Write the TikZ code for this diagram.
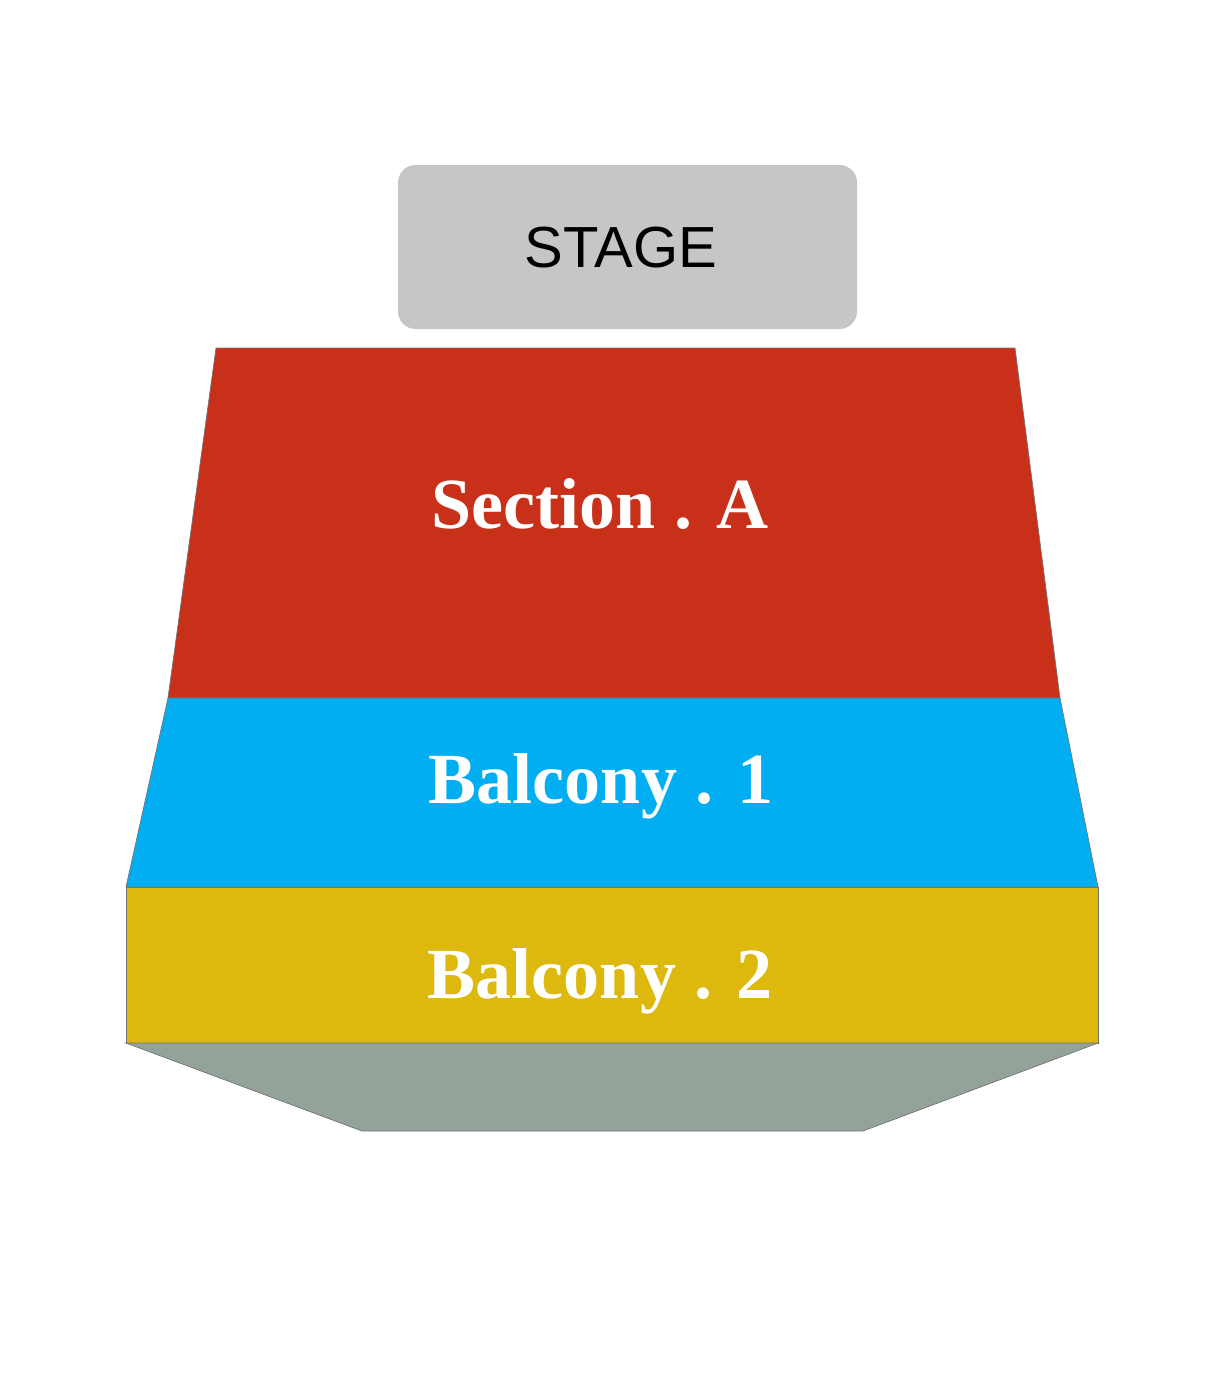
\documentclass[tikz,border=0pt]{standalone}
\usepackage{fontspec}
\setmainfont{Liberation Serif}
\newfontfamily\stagefont{Liberation Sans}
\usepackage{tikz}

\definecolor{stagegray}{HTML}{C6C6C6}
\definecolor{secred}{HTML}{C8301A}
\definecolor{balblue}{HTML}{02AEF2}
\definecolor{balgold}{HTML}{DDB90D}
\definecolor{floorgray}{HTML}{93A39A}

\begin{document}
\begin{tikzpicture}[x=0.02cm, y=-0.02cm,
		zone/.style={draw=black!55, line width=0.4pt},
		zonelabel/.style={text=white, font=\fontsize{41}{46}\selectfont\bfseries}]
		\useasboundingbox (0,0) rectangle (1211,1383);
		
		% Stage box
		\draw[fill=stagegray, draw=none, rounded corners=10pt] (398,165) rectangle (857,329);
		\node (STAGE) at (621,248) {\stagefont\fontsize{33}{38}\selectfont STAGE};
		
		\path % Corners of the seating blocks
		(216,348)  coordinate (Atl)
		(1015,348) coordinate (Atr)
		(168,698)  coordinate (Abl)
		(1060,698) coordinate (Abr)
		(126,887)  coordinate (Bl)
		(1098,887) coordinate (Br)
		(126,1043) coordinate (Cl)
		(1098,1043) coordinate (Cr)
		(362,1131) coordinate (Dl)
		(863,1131) coordinate (Dr)
		;
		
		\draw[zone, fill=secred]  (Atl) -- (Atr) -- (Abr) -- (Abl) -- cycle;
		\draw[zone, fill=balblue] (Abl) -- (Abr) -- (Br) -- (Bl) -- cycle;
		\draw[zone, fill=balgold] (Bl) -- (Br) -- (Cr) -- (Cl) -- cycle;
		\draw[zone, fill=floorgray] (Cl) -- (Cr) -- (Dr) -- (Dl) -- cycle;
		
		% Labels
		\node[zonelabel] (SecA) at (600,504) {Section . A};
		\node[zonelabel] (Bal1) at (601,786) {Balcony . 1};
		\node[zonelabel] (Bal2) at (600,981) {Balcony . 2};
		
\end{tikzpicture}
\end{document}
